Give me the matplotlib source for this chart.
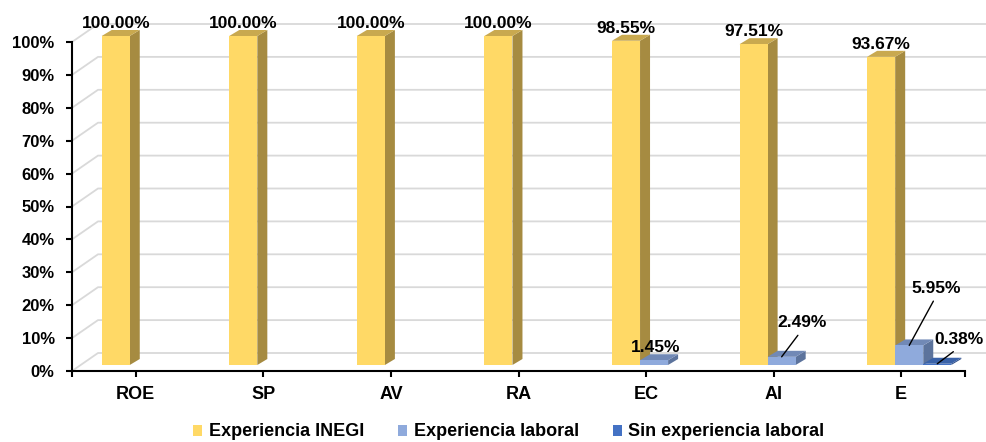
import matplotlib
matplotlib.use('Agg')
import matplotlib.pyplot as plt
from matplotlib.patches import Polygon, Rectangle

# fuente tipo Arial en negritas
plt.rcParams['font.family'] = ['Liberation Sans', 'DejaVu Sans']
plt.rcParams['font.weight'] = 'bold'

# datos
categorias = ['ROE', 'SP', 'AV', 'RA', 'EC', 'AI', 'E']
exp_inegi = [100.00, 100.00, 100.00, 100.00, 98.55, 97.51, 93.67]
exp_laboral = [0, 0, 0, 0, 1.45, 2.49, 5.95]
sin_exp = [0, 0, 0, 0, 0, 0, 0.38]
series = ['Experiencia INEGI', 'Experiencia laboral', 'Sin experiencia laboral']
yticks = [0, 10, 20, 30, 40, 50, 60, 70, 80, 90, 100]

valores = [exp_inegi, exp_laboral, sin_exp]

# colores: frente, tapa, lado
colores = [('#FFD966', '#C9A94F', '#A68B41'),
           ('#8FAADC', '#7189B6', '#5C739C'),
           ('#4472C4', '#3A62A8', '#2F4F8A')]

# posiciones de etiquetas con línea guía (en pixeles respecto a la tapa)
etiquetas_esp = {(1, 4): (2, 13, False),
                 (1, 5): (20, 34, True),
                 (1, 6): (27, 57, True),
                 (2, 6): (22, 24, True)}

fig = plt.figure(figsize=(9.86, 4.42), dpi=100)
ax = fig.add_axes([72/986, 71/442, 893/986, 329/442])
ax.set_xlim(-0.5, len(categorias) - 0.5)
ax.set_ylim(0, 100)

# conversion pixeles -> unidades de datos
p0 = ax.transData.transform((0, 0))
p1 = ax.transData.transform((1, 1))
sx, sy = p1 - p0

wall_dx, wall_dy = 26 / sx, 18 / sy   # profundidad de la pared del fondo
shift_x, shift_y = 8 / sx, 6 / sy     # desplazamiento de las barras
bar_dx, bar_dy = 10 / sx, 6 / sy      # profundidad de cada barra
w = 0.22

# cuadricula en la pared del fondo
for t in yticks:
    ax.plot([-0.5, -0.5 + wall_dx, len(categorias) - 0.5 + wall_dx],
            [t, t + wall_dy, t + wall_dy], color='#D9D9D9', lw=1.3,
            clip_on=False, zorder=0)


def barra(x0, h, col):
    xf = x0 + shift_x
    yb = shift_y
    yt = shift_y + h
    lado = Polygon([(xf + w, yb), (xf + w + bar_dx, yb + bar_dy),
                    (xf + w + bar_dx, yt + bar_dy), (xf + w, yt)],
                   fc=col[2], ec='none', clip_on=False, zorder=2)
    tapa = Polygon([(xf, yt), (xf + w, yt), (xf + w + bar_dx, yt + bar_dy),
                    (xf + bar_dx, yt + bar_dy)],
                   fc=col[1], ec='none', clip_on=False, zorder=2)
    frente = Rectangle((xf, yb), w, h, fc=col[0], ec='none',
                       clip_on=False, zorder=2)
    for p in (lado, tapa, frente):
        ax.add_patch(p)
    return xf + w / 2, yt


for i in range(len(categorias)):
    for s in range(3):
        h = valores[s][i]
        if h <= 0:
            continue
        x0 = i - 1.5 * w + s * w
        xc, yt = barra(x0, h, colores[s])
        txt = f'{h:.2f}%'
        if (s, i) in etiquetas_esp:
            ox, oy, linea = etiquetas_esp[(s, i)]
            props = None
            if linea:
                props = dict(arrowstyle='-', color='black', lw=1,
                             relpos=(0.5, 0), shrinkA=2, shrinkB=0)
            ax.annotate(txt, xy=(xc, yt), xytext=(ox, oy),
                        textcoords='offset pixels', ha='center', va='center',
                        fontsize=12.5, fontweight='bold', arrowprops=props,
                        annotation_clip=False, zorder=5)
        else:
            ax.annotate(txt, xy=(xc, yt), xytext=(0, 12.5),
                        textcoords='offset pixels', ha='center', va='center',
                        fontsize=12.5, fontweight='bold',
                        annotation_clip=False, zorder=5)

# ejes
for lado in ['top', 'right']:
    ax.spines[lado].set_visible(False)
for lado in ['left', 'bottom']:
    ax.spines[lado].set_linewidth(1.5)
    ax.spines[lado].set_color('black')

ax.set_yticks(yticks)
ax.set_yticklabels([f'{t}%' for t in yticks])
ax.set_xticks(range(len(categorias)))
ax.set_xticklabels(categorias)
ax.set_xticks([-0.5, len(categorias) - 0.5], minor=True)
ax.tick_params(axis='y', length=4, width=1.5, pad=8.5, labelsize=12)
ax.tick_params(axis='x', which='both', length=4.5, width=1.5, pad=6,
               labelsize=13)
ax.patch.set_alpha(0)

handles = [Rectangle((0, 0), 1, 1, fc=c[0], ec='none') for c in colores]
fig.legend(handles, series, loc='center', bbox_to_anchor=(509/986, 1 - 432/442),
           ncol=3, frameon=False, fontsize=13, handlelength=0.5,
           handleheight=0.55, handletextpad=0.35, columnspacing=1.9)

fig.savefig('out.png', dpi=100)
